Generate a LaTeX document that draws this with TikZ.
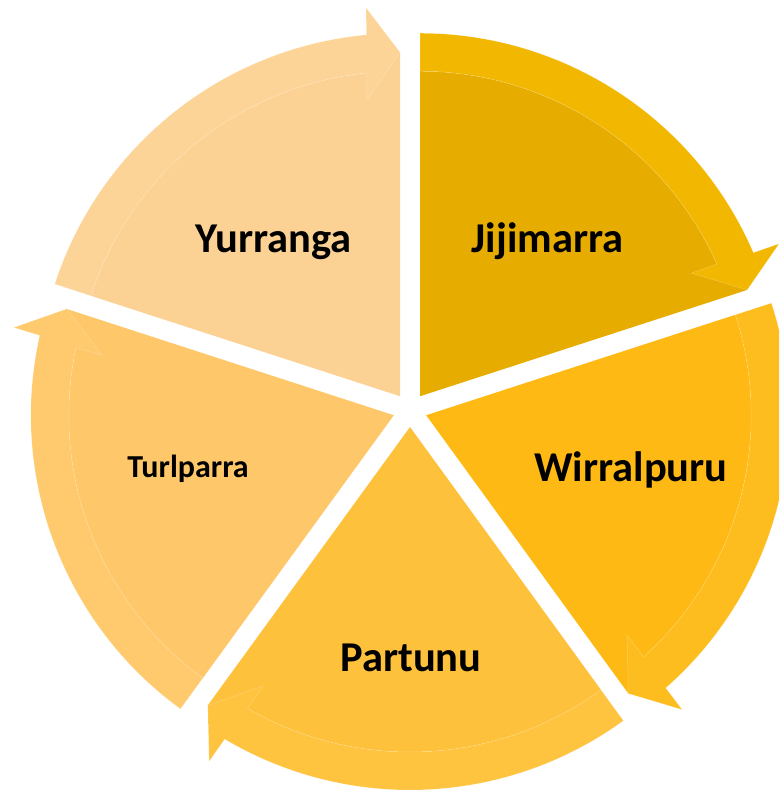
\documentclass[tikz,border=0pt]{standalone}
\usepackage{fontspec}
\setmainfont{Carlito}
\usepackage{tikz}
\usetikzlibrary{calc}
\usepackage{xcolor}

\definecolor{jijiPie}{HTML}{E6AD00}
\definecolor{jijiBand}{HTML}{F2B700}
\definecolor{wirrPie}{HTML}{FEB914}
\definecolor{wirrBand}{HTML}{FEBD1E}
\definecolor{partPie}{HTML}{FEC13C}
\definecolor{partBand}{HTML}{FEC33F}
\definecolor{turlPie}{HTML}{FEC86A}
\definecolor{turlBand}{HTML}{FECA6D}
\definecolor{yurrPie}{HTML}{FCD294}
\definecolor{yurrBand}{HTML}{FDD497}

\begin{document}
\begin{tikzpicture}[
    x=1pt, y=1pt,
    seglabel/.style={
      anchor=base, inner sep=0pt, text=black,
      font=\fontsize{42.5}{42.5}\selectfont\bfseries
    },
    smalllabel/.style={
      seglabel, font=\fontsize{32}{32}\selectfont\bfseries
    },
    band/.style={draw=white, draw opacity=0.25, line width=0.5pt},
  ]

  \clip (0,0) rectangle (779,791);

  %% ── Segments: pie wedge + circular arrow ─────────────────
  \foreach \s/\e/\piecol/\bandcol in {
      90/18/jijiPie/jijiBand,
      18/-54/wirrPie/wirrBand,
      -54/-126/partPie/partBand,
      -126/-198/turlPie/turlBand,
      162/90/yurrPie/yurrBand}{
    \pgfmathsetmacro{\bis}{\s-36}
    \pgfmathsetmacro{\eo}{\e+5.3}
    \pgfmathsetmacro{\ei}{\e+6}
    \begin{scope}[shift={(410,381)}, shift={(\bis:17)}]
      \fill[\piecol] (0,0) -- (\e:344) -- (\ei:325)
        arc[start angle=\ei, end angle=\s, radius=325pt] -- cycle;
      \filldraw[band, fill=\bandcol] (\s:363)
        arc[start angle=\s, end angle=\eo, radius=363pt]
        -- ({\e+5}:390) -- (\e:344) -- ({\e+6.4}:298) -- (\ei:325)
        arc[start angle=\ei, end angle=\s, radius=325pt] -- cycle;
    \end{scope}
  }

  %% ── Labels ───────────────────────────────────────────────
  \node[seglabel]   (jijimarra)  at (547.5,538) {Jijimarra};
  \node[seglabel]   (wirralpuru) at (631,309)   {Wirralpuru};
  \node[seglabel]   (partunu)    at (411,119)   {Partunu};
  \node[smalllabel] (turlparra)  at (188,313)   {Turlparra};
  \node[seglabel]   (yurranga)   at (273.5,538) {Yurranga};

\end{tikzpicture}
\end{document}
